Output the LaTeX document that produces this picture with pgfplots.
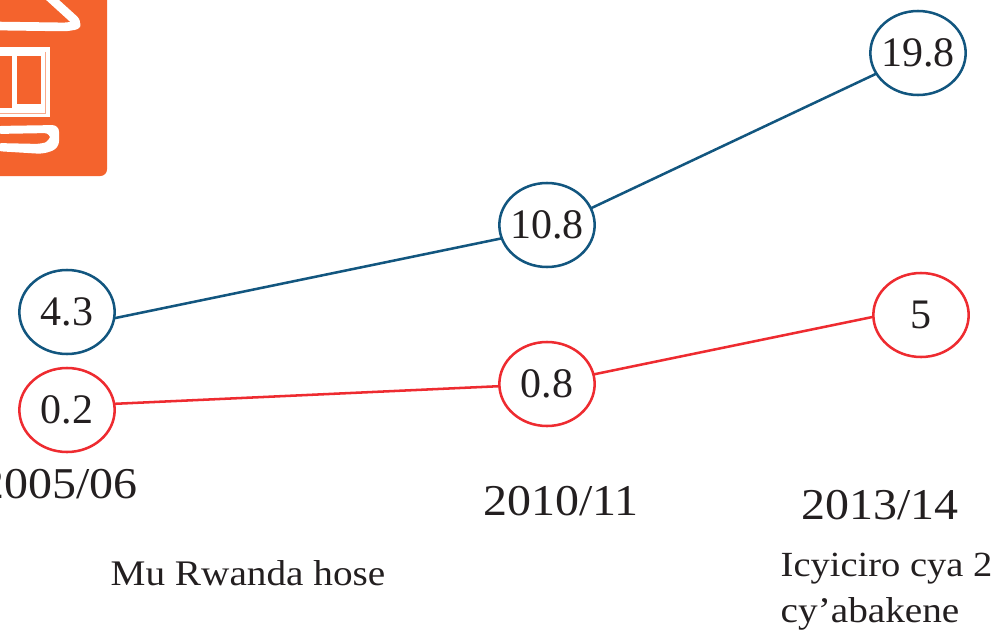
\documentclass[border=0pt]{standalone}
\usepackage{pgfplots}
\pgfplotsset{compat=1.18}
\usepackage{pgfplotstable}
\usepackage{fontspec}
\setmainfont[FakeStretch=1.09]{Liberation Serif}
\newfontfamily\labelfont{Liberation Serif}
\usetikzlibrary{shapes.geometric}

\definecolor{lineblue}{HTML}{12567F}
\definecolor{linered}{HTML}{EE2B30}
\definecolor{iconorange}{HTML}{F4632D}
\definecolor{textgrey}{HTML}{231F20}

% x, y = position on the page (px), label = printed value
% the drawn lines do not run through the centres of the ellipses
\pgfplotstableread{
x   y   label
67  312 4.3
547 225 10.8
918 53  19.8
}\national
\pgfplotstableread{
x   y
67  328
547 229
918 54
}\nationalline
\pgfplotstableread{
x   y   label
67  410 0.2
547 384 0.8
921 315 5
}\secondary
\pgfplotstableread{
x   y
67  406
547 384
921 307
}\secondaryline

\begin{document}
\begin{tikzpicture}[x=1pt,y=1pt]
  \begin{axis}[
    name=ax,
    scale only axis,
    width=745.5pt, height=478.5pt,
    xmin=0, xmax=994,
    ymin=0, ymax=638,
    y dir=reverse,
    hide axis,
    clip mode=global,
    point meta=explicit symbolic,
  ]
    % icon
    \fill[iconorange, rounded corners=5pt] (-30,-30) rectangle (107,176);
    \draw[white, line width=6.5pt, line join=round, rounded corners=5pt]
      (46,-6) -- (79,24) -- (70,27) -- (-5,26);
    \fill[white] (-5,47) rectangle (50,117);
    \draw[iconorange!55!white, line width=.7pt] (45.5,52) -- (45.5,113) -- (-5,113);
    \fill[iconorange] (-5,56) rectangle (12,108);
    \fill[iconorange] (17,56) rectangle (41,104);
    \fill[white, rounded corners=5pt] (-5,126) -- (59,125) -- (59,148) -- (44,154)
      -- (-5,151) -- (-5,143) -- (42,144) -- (50,141) -- (51,133) -- (-5,134) -- cycle;

    \addplot[color=lineblue, line width=1.9pt, no markers] table[x=x, y=y] {\nationalline};
    \addplot[color=linered, line width=1.9pt, no markers] table[x=x, y=y] {\secondaryline};

    \addplot[draw=none, no markers,
      nodes near coords={\makebox[0pt]{\pgfplotspointmeta}},
      nodes near coords style={
        ellipse, draw=lineblue, line width=1.9pt, fill=white, anchor=center, inner sep=0pt,
        minimum width=71.5pt, minimum height=63pt,
        text=textgrey, font=\labelfont\fontsize{31.5}{31.5}\selectfont}]
      table[x=x, y=y, meta=label] {\national};
    \addplot[draw=none, no markers,
      nodes near coords={\makebox[0pt]{\pgfplotspointmeta}},
      nodes near coords style={
        ellipse, draw=linered, line width=1.9pt, fill=white, anchor=center, inner sep=0pt,
        minimum width=71.5pt, minimum height=63pt,
        text=textgrey, font=\labelfont\fontsize{31.5}{31.5}\selectfont}]
      table[x=x, y=y, meta=label] {\secondary};

    \node[text=textgrey, font=\fontsize{33}{33}\selectfont, anchor=center] at (59,484) {2005/06};
    \node[text=textgrey, font=\fontsize{33}{33}\selectfont, anchor=center] at (561,501) {2010/11};
    \node[text=textgrey, font=\fontsize{33}{33}\selectfont, anchor=center] at (880,505) {2013/14};
    \node[text=textgrey, font=\fontsize{27}{27}\selectfont, anchor=center] at (248,573) {Mu Rwanda hose};
    \node[text=textgrey, font=\fontsize{26.5}{26.5}\selectfont, anchor=west] at (776,569) {Icyiciro cya 2};
    \node[text=textgrey, font=\fontsize{27}{27}\selectfont, anchor=west] at (776,614) {cy’abakene};
  \end{axis}
  \pgfresetboundingbox
  \path[use as bounding box] (ax.south west) rectangle (ax.north east);
\end{tikzpicture}
\end{document}
